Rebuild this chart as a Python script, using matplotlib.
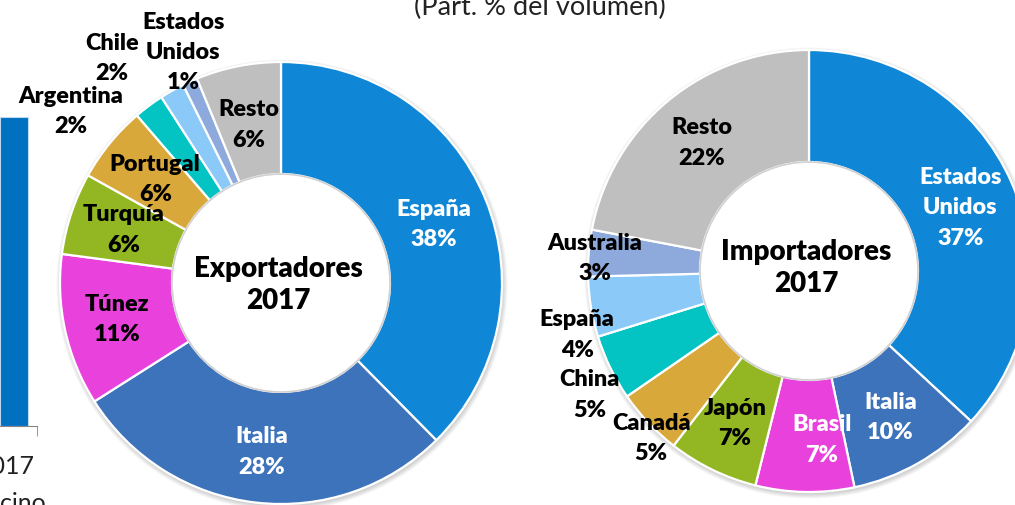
import numpy as np
import matplotlib.pyplot as plt
from matplotlib.patches import Circle
from matplotlib.transforms import ScaledTranslation

plt.rcParams['font.family'] = ['Lato', 'DejaVu Sans']

# Exportadores 2017 (% del volumen)
exp_names = ['España', 'Italia', 'Túnez', 'Turquía', 'Portugal', 'Argentina', 'Chile', 'Estados\nUnidos', 'Resto']
exp_values = [37.6, 28.4, 11.1, 6.0, 5.6, 2.2, 1.8, 1.1, 6.2]

# Importadores 2017 (% del volumen)
imp_names = ['Estados\nUnidos', 'Italia', 'Brasil', 'Japón', 'Canadá', 'China', 'España', 'Australia', 'Resto']
imp_values = [36.9, 9.8, 7.2, 6.6, 4.9, 4.8, 4.4, 3.4, 22.0]

# fragment of the neighbouring bar chart
bar_years = ['2017']
bar_values = [100]

BLUE = '#1087D6'
ITA = '#3D73BB'
MAG = '#E942DC'
GRN = '#93B722'
GOLD = '#D9A83B'
TEAL = '#03C3C3'
LBLUE = '#8BC9F8'
SLATE = '#8EA9DB'
GRAY = '#BFBFBF'

exp_colors = [BLUE, ITA, MAG, GRN, GOLD, TEAL, LBLUE, SLATE, GRAY]
imp_colors = [BLUE, ITA, MAG, GRN, GOLD, TEAL, LBLUE, SLATE, GRAY]
exp_txt = ['white', 'white'] + ['black'] * 7
imp_txt = ['white', 'white', 'white'] + ['black'] * 6
# label nudges (pixels) for labels moved off their wedge centre
exp_nudge = [(0, -3), (-1, -4), (-3, 0), (-1, 2), (2, 0), (-112, 40), (-88, 82), (-30, 81), (0, -3)]
imp_nudge = [(0, -2), (0, -2), (16, -3), (-2, -3), (-38, -53), (-71, -51), (-69, -36), (-50, 0), (-2, 2)]

W, H = 1015, 506
fig = plt.figure(figsize=(W / 100, H / 100), dpi=100)
ax = fig.add_axes([0, 0, 1, 1])

R_OUT, R_IN = 221, 109
LAB_R = 165


def donut(center, values, names, colors, txtcolors, nudges, title, title_dy):
    cx, cy = center
    for i in range(5):
        ax.add_patch(Circle((cx + 1, cy - 2), R_OUT + 0.5 + i, color='black', alpha=0.035, lw=0, zorder=0))
    wedges, _ = ax.pie(values, colors=colors, startangle=90, counterclock=False,
                       center=center, radius=R_OUT,
                       wedgeprops=dict(width=R_OUT - R_IN, edgecolor='white', linewidth=1.6))
    ax.add_patch(Circle(center, R_IN, facecolor='white', edgecolor='#d0d0d0', lw=1.2, zorder=3))
    for w, name, v, tc, (nx, ny) in zip(wedges, names, values, txtcolors, nudges):
        mid = np.deg2rad((w.theta1 + w.theta2) / 2)
        x = cx + LAB_R * np.cos(mid) + nx
        y = cy + LAB_R * np.sin(mid) + ny
        ax.text(x, y, f'{name}\n{round(v)}%', ha='center', va='center', color=tc,
                fontsize=16.8, fontweight='heavy', linespacing=1.55, zorder=5)
    ax.text(cx - 3, cy + title_dy, title, ha='center', va='center', fontsize=20,
            fontweight='heavy', linespacing=1.3, zorder=5)


donut((281, H - 284), exp_values, exp_names, exp_colors, exp_txt, exp_nudge, 'Exportadores\n2017', -1)
donut((809, H - 272), imp_values, imp_names, imp_colors, imp_txt, imp_nudge, 'Importadores\n2017', 4)

ax.set_xlim(0, W)
ax.set_ylim(0, H)
ax.set_aspect('equal')
ax.axis('off')

ax.text(540, H - 15, '(Part. % del volumen)', ha='center', va='baseline', fontsize=19.5, color='#222222')
ax.text(46, -5, 'cino', ha='right', va='baseline', fontsize=18, color='#222222')

# cropped bar chart on the left edge
bax = fig.add_axes([-60 / W, (H - 427) / H, 97 / W, (427 - 118) / H])
bax.bar(range(len(bar_values)), bar_values, width=0.6, color='#0070C0', edgecolor='#BDD7EE', linewidth=0.8)
bax.set_xlim(-1.61, 0.5)
bax.set_ylim(0, max(bar_values))
bax.set_xticks(range(len(bar_years)), bar_years)
bax.set_xticks([0.5], minor=True)
bax.tick_params(axis='x', which='major', length=0, labelsize=18, pad=20, labelcolor='#222222')
bax.tick_params(axis='x', which='minor', length=7, color='#868686')
for lbl in bax.get_xticklabels():
    lbl.set_transform(lbl.get_transform() + ScaledTranslation(-0.08, 0, fig.dpi_scale_trans))
bax.set_yticks([])
for s in ['top', 'left', 'right']:
    bax.spines[s].set_visible(False)
bax.spines['bottom'].set_color('#868686')
bax.patch.set_alpha(0)

fig.savefig('out.png', dpi=100)
